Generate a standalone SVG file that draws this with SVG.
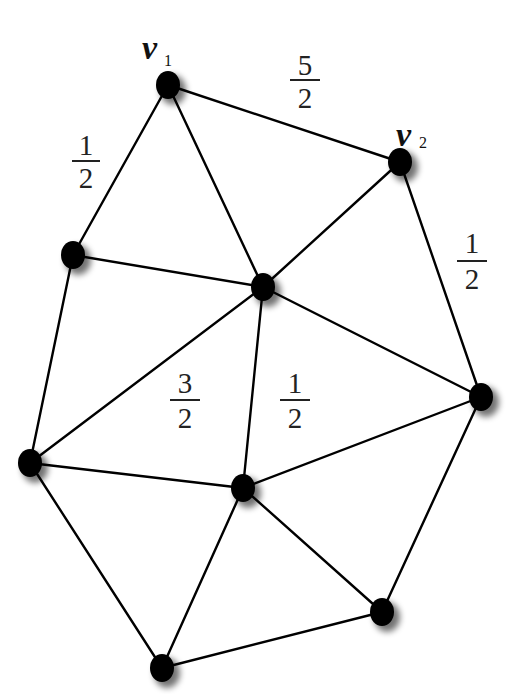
<svg xmlns="http://www.w3.org/2000/svg" width="508" height="694" viewBox="0 0 508 694">
<style>
.e{stroke:#000;stroke-width:2.4;fill:none;stroke-linecap:round}
.n{fill:#000}
.sh{fill:#000;opacity:0.55;filter:url(#blur)}
.f{font-family:"Liberation Serif","DejaVu Serif",serif;font-size:29px;fill:#222;text-anchor:middle}
.bar{stroke:#222;stroke-width:2}
.v{font-family:"Liberation Serif","DejaVu Serif",serif;font-style:italic;font-weight:bold;font-size:34px;fill:#111}
.s{font-family:"Liberation Serif","DejaVu Serif",serif;font-size:16px;fill:#111}
</style>
<defs>
<filter id="blur" x="-50%" y="-50%" width="200%" height="200%"><feGaussianBlur stdDeviation="3"/></filter>
</defs>
<rect width="508" height="694" fill="#fff"/>
<g id="edges">
<line class="e" x1="168" y1="85" x2="400" y2="162"/>
<line class="e" x1="168" y1="85" x2="73" y2="255"/>
<line class="e" x1="168" y1="85" x2="263" y2="287"/>
<line class="e" x1="400" y1="162" x2="263" y2="287"/>
<line class="e" x1="400" y1="162" x2="481" y2="397"/>
<line class="e" x1="73" y1="255" x2="263" y2="287"/>
<line class="e" x1="73" y1="255" x2="30" y2="463"/>
<line class="e" x1="263" y1="287" x2="30" y2="463"/>
<line class="e" x1="263" y1="287" x2="243" y2="488"/>
<line class="e" x1="263" y1="287" x2="481" y2="397"/>
<line class="e" x1="30" y1="463" x2="243" y2="488"/>
<line class="e" x1="243" y1="488" x2="481" y2="397"/>
<line class="e" x1="30" y1="463" x2="162" y2="668"/>
<line class="e" x1="243" y1="488" x2="162" y2="668"/>
<line class="e" x1="243" y1="488" x2="382" y2="612"/>
<line class="e" x1="382" y1="612" x2="481" y2="397"/>
<line class="e" x1="162" y1="668" x2="382" y2="612"/>
</g>
<g id="v1"><ellipse class="sh" cx="173" cy="90" rx="13" ry="15"/><ellipse class="n" cx="168" cy="85" rx="12" ry="14"/></g>
<g id="v2"><ellipse class="sh" cx="405" cy="167" rx="13" ry="15"/><ellipse class="n" cx="400" cy="162" rx="12" ry="14"/></g>
<g id="nA"><ellipse class="sh" cx="78" cy="260" rx="13" ry="15"/><ellipse class="n" cx="73" cy="255" rx="12" ry="14"/></g>
<g id="nC"><ellipse class="sh" cx="268" cy="292" rx="13" ry="15"/><ellipse class="n" cx="263" cy="287" rx="12" ry="14"/></g>
<g id="nR"><ellipse class="sh" cx="486" cy="402" rx="13" ry="15"/><ellipse class="n" cx="481" cy="397" rx="12" ry="14"/></g>
<g id="nL"><ellipse class="sh" cx="35" cy="468" rx="13" ry="15"/><ellipse class="n" cx="30" cy="463" rx="12" ry="14"/></g>
<g id="nM"><ellipse class="sh" cx="248" cy="493" rx="13" ry="15"/><ellipse class="n" cx="243" cy="488" rx="12" ry="14"/></g>
<g id="nBR"><ellipse class="sh" cx="387" cy="617" rx="13" ry="15"/><ellipse class="n" cx="382" cy="612" rx="12" ry="14"/></g>
<g id="nB"><ellipse class="sh" cx="167" cy="673" rx="13" ry="15"/><ellipse class="n" cx="162" cy="668" rx="12" ry="14"/></g>
<g id="labels">
<text class="v" x="142" y="59">ν</text><text class="s" x="164" y="66">1</text>
<text class="v" x="396" y="146">ν</text><text class="s" x="419" y="148">2</text>
<text class="f" x="305" y="75">5</text><line class="bar" x1="290" y1="80" x2="320" y2="80"/><text class="f" x="305" y="108">2</text>
<text class="f" x="86" y="155">1</text><line class="bar" x1="72" y1="161" x2="100" y2="161"/><text class="f" x="86" y="188">2</text>
<text class="f" x="472" y="253">1</text><line class="bar" x1="457" y1="261" x2="487" y2="261"/><text class="f" x="472" y="289">2</text>
<text class="f" x="185" y="393">3</text><line class="bar" x1="170" y1="400" x2="200" y2="400"/><text class="f" x="185" y="428">2</text>
<text class="f" x="295" y="393">1</text><line class="bar" x1="280" y1="400" x2="310" y2="400"/><text class="f" x="295" y="428">2</text>
</g>
</svg>
